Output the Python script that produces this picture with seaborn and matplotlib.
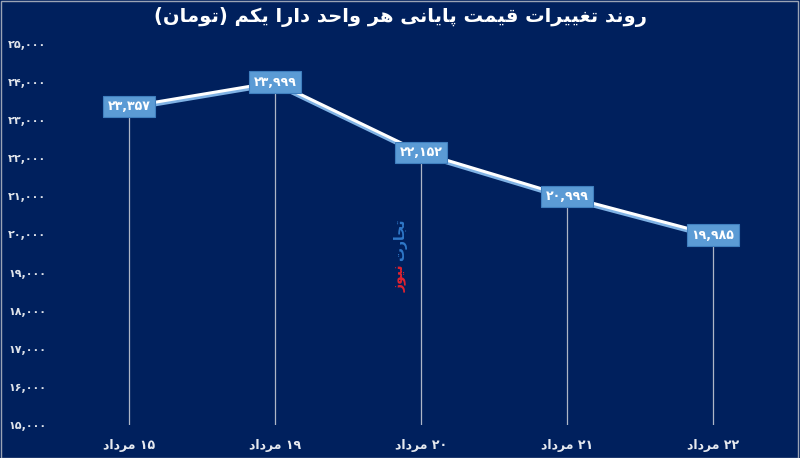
import matplotlib
matplotlib.use("Agg")
import matplotlib.pyplot as plt
import matplotlib.patheffects as pe
import pandas as pd
import seaborn as sns

# ── data ───────────────────────────────────────────────
days = ["۱۵", "۱۹", "۲۰", "۲۱", "۲۲"]
month = "مرداد"
prices = [23357, 23999, 22152, 20999, 19985]
y_ticks = [15000, 16000, 17000, 18000, 19000, 20000, 21000, 22000, 23000, 24000, 25000]
title = "روند تغییرات قیمت پایانی هر واحد دارا یکم (تومان)"
brand_a = "تجارت"
brand_b = "نیوز"

BG = "#00205d"
BOX = "#5b9bd5"

# ── minimal Persian shaping (matplotlib has no bidi / joining) ─────
FORMS = {
    "ا": ("\uFE8D", "\uFE8E", None, None),
    "ب": ("\uFE8F", "\uFE90", "\uFE91", "\uFE92"),
    "پ": ("\uFB56", "\uFB57", "\uFB58", "\uFB59"),
    "ت": ("\uFE95", "\uFE96", "\uFE97", "\uFE98"),
    "ج": ("\uFE9D", "\uFE9E", "\uFE9F", "\uFEA0"),
    "ح": ("\uFEA1", "\uFEA2", "\uFEA3", "\uFEA4"),
    "د": ("\uFEA9", "\uFEAA", None, None),
    "ر": ("\uFEAD", "\uFEAE", None, None),
    "ز": ("\uFEAF", "\uFEB0", None, None),
    "غ": ("\uFECD", "\uFECE", "\uFECF", "\uFED0"),
    "ق": ("\uFED5", "\uFED6", "\uFED7", "\uFED8"),
    "ک": ("\uFB8E", "\uFB8F", "\uFB90", "\uFB91"),
    "م": ("\uFEE1", "\uFEE2", "\uFEE3", "\uFEE4"),
    "ن": ("\uFEE5", "\uFEE6", "\uFEE7", "\uFEE8"),
    "ه": ("\uFEE9", "\uFEEA", "\uFEEB", "\uFEEC"),
    "و": ("\uFEED", "\uFEEE", None, None),
    "ی": ("\uFBFC", "\uFBFD", "\uFBFE", "\uFBFF"),
}
MIRROR = {"(": ")", ")": "("}


def shape(word):
    out = []
    for i, ch in enumerate(word):
        if ch not in FORMS:
            out.append(ch)
            continue
        prev = word[i - 1] if i > 0 else ""
        nxt = word[i + 1] if i + 1 < len(word) else ""
        joins_prev = prev in FORMS and FORMS[prev][2] is not None
        joins_next = nxt in FORMS and FORMS[ch][2] is not None
        iso, fin, ini, med = FORMS[ch]
        if joins_prev and joins_next:
            out.append(med)
        elif joins_prev:
            out.append(fin)
        elif joins_next:
            out.append(ini)
        else:
            out.append(iso)
    return "".join(out)


def rtl(text):
    # digits stay left-to-right, arabic words get reversed, word order flips
    words = text.split(" ")
    vis = []
    for w in words:
        if w and all(c in "۰۱۲۳۴۵۶۷۸۹,0123456789" for c in w):
            vis.append(w)
        else:
            vis.append("".join(MIRROR.get(c, c) for c in shape(w)[::-1]))
    return " ".join(reversed(vis))


FA_DIGITS = str.maketrans("0123456789", "۰۱۲۳۴۵۶۷۸۹")


def fa_num(v):
    return f"{v:,}".translate(FA_DIGITS)


df = pd.DataFrame({
    "day": [rtl(f"{d} {month}") for d in days],
    "price": prices,
})
df["pos"] = range(len(df))

# ── plot ───────────────────────────────────────────────
sns.set_style("dark", rc={"axes.facecolor": BG, "figure.facecolor": BG})
plt.rcParams["font.family"] = ["DejaVu Sans"]

fig = plt.figure(figsize=(8, 4.58), dpi=100)
ax = fig.add_axes([0.07, 0.072, 0.9125, 0.832])
ax.set_facecolor(BG)

# drop lines from each point to the floor
ax.vlines(df["pos"], 15000, df["price"], color="#aeb6c6", lw=0.9, zorder=1)

# light-blue shadow under the white line
sns.lineplot(data=df, x="pos", y="price", ax=ax, color="#6fa8dc", lw=3.0,
             zorder=2, legend=False,
             path_effects=[pe.Stroke(offset=(0, -1.5), linewidth=3.0, foreground="#7fb2e5")])
sns.lineplot(data=df, x="pos", y="price", ax=ax, color="white", lw=2.2,
             zorder=3, legend=False)

for x, v in zip(df["pos"], df["price"]):
    ax.text(x, v, fa_num(v), ha="center", va="center", color="white",
            fontsize=9, fontweight="bold", zorder=5,
            bbox=dict(boxstyle="square,pad=0.35", fc=BOX, ec="#3f7fbf", lw=0.8))

ax.set_xlim(-0.5, len(df) - 0.5)
ax.set_ylim(15000, 25000)
ax.set_xticks(df["pos"])
ax.set_xticklabels(df["day"], color="#e6e9ef", fontsize=9, fontweight="bold")
ax.set_yticks(y_ticks)
ax.set_yticklabels([fa_num(t) for t in y_ticks], color="#dfe3ea",
                   fontsize=8, fontweight="bold")
ax.tick_params(axis="x", length=0, pad=10)
ax.tick_params(axis="y", length=0, pad=7)
ax.set_xlabel("")
ax.set_ylabel("")
ax.grid(False)
for s in ax.spines.values():
    s.set_visible(False)

fig.text(0.5, 0.962, rtl(title), ha="center", va="center", color="white",
         fontsize=14, fontweight="bold")

# watermark, two colours stacked vertically
ax.text(1.86, 19300, rtl(brand_a), rotation=90, ha="center", va="bottom",
        color="#2f78c8", fontsize=10, fontweight="bold", zorder=4)
ax.text(1.86, 19220, rtl(brand_b), rotation=90, ha="center", va="top",
        color="#e0232f", fontsize=10, fontweight="bold", zorder=4)

# thin light frame around the figure
fig.patches.append(plt.Rectangle((0.001, 0.001), 0.996, 0.997, transform=fig.transFigure,
                                 fill=False, ec="#9aa3b5", lw=1))

fig.savefig("out.png", dpi=100, facecolor=BG)
